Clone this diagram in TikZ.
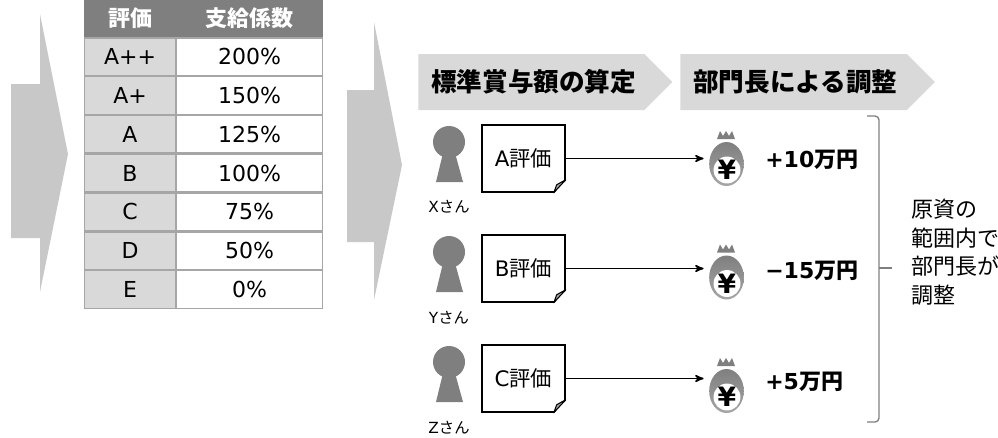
\documentclass[tikz,border=0pt]{standalone}
\usepackage{fontspec}
\setmainfont{DejaVu Sans}
\newfontfamily\cjk{Noto Sans CJK JP}
\usetikzlibrary{arrows,positioning,shapes.geometric,shapes.symbols}
\definecolor{bandgray}{HTML}{D9D9D9}
\definecolor{headgray}{HTML}{7F7F7F}
\definecolor{bluntgray}{HTML}{C8C8C8}
\definecolor{tablegray}{HTML}{A6A6A6}
\tikzset{
	cell/.style = {rectangle, draw=tablegray, line width=1pt, inner sep=0pt, text=black, 
		font=\fontsize{16.5}{18}\selectfont, minimum height=28.1pt},
	gradecell/.style = {cell, fill=bandgray, minimum width=68.5pt},
	ratecell/.style = {cell, fill=white, minimum width=109.75pt},
	headcell/.style = {rectangle, fill=headgray, inner sep=0pt, text=white, 
		font=\fontsize{16.5}{18}\selectfont\bfseries\cjk, minimum height=27.75pt},
	band/.style = {signal, signal to=east, signal pointer angle=90, fill=bandgray, 
		inner sep=0pt, minimum height=42pt, text=black, anchor=west, align=left, 
		font=\fontsize{19.2}{20}\selectfont\bfseries\cjk},
	sheet/.style = {rectangle, draw=black, line width=1.1pt, fill=white, inner sep=0pt, 
		minimum width=62.25pt, minimum height=50.25pt, font=\fontsize{16}{18}\selectfont},
	who/.style = {inner sep=0pt, font=\fontsize{11.5}{13}\selectfont},
	bag/.style = {ellipse, inner sep=0pt, minimum width=26pt, minimum height=33pt, 
		top color=headgray, bottom color=tablegray},
	yen/.style = {circle, fill=white, inner sep=0pt, minimum width=20pt, 
		font=\fontsize{20}{20}\selectfont\bfseries},
	amount/.style = {anchor=west, inner sep=0pt, font=\fontsize{16.5}{18}\selectfont\bfseries},
	note/.style = {anchor=west, inner sep=0pt, font=\fontsize{16.5}{18}\selectfont\cjk},
	person/.pic = {
		\fill [headgray] (0,0) circle (12pt);
		\fill [headgray] (-6,11) -- (6,11) -- (14,40) -- (-13,40) -- cycle;
	},
	fold/.pic = {
		\fill [white] (-12,1) -- (1,-13) -- (1,1) -- cycle;
		\draw [black, line width=.8pt, fill=tablegray, line join=round] (-12,0) -- (-9,-8) -- (0,-13) -- cycle;
	},
	crown/.pic = {
		\fill [headgray] (-9,8) -- (-6,0) -- (-3,5) -- (0,0) -- (3,5) -- (6,0) -- (9,8) -- cycle;
	}
}

\begin{document}
\begin{tikzpicture}[>=stealth', x=.75pt, y=-.75pt]
\useasboundingbox (0,0) rectangle (998,437);
%----------------- Blunt arrows --------------
	\fill [bluntgray] (11,84) -- (40,84) -- (40,14) -- (68,154) -- (40,292) -- (40,238) -- (11,238) -- cycle;
	\fill [bluntgray] (347,90) -- (374,90) -- (374,22) -- (402,165) -- (374,300) -- (374,242) -- (347,242) -- cycle;
%----------------- Table --------------
	\node (H1) [headcell, minimum width=69pt] at (130,18.5) {評価};
	\node (H2) [headcell, minimum width=110.25pt] at (249.5,18.5) {支給係数};
	\node (G1) [gradecell, below=0pt of H1] {A++};
	\node (G2) [gradecell, below=0pt of G1] {A+};
	\node (G3) [gradecell, below=0pt of G2] {A};
	\node (G4) [gradecell, below=0pt of G3] {B};
	\node (G5) [gradecell, below=0pt of G4] {C};
	\node (G6) [gradecell, below=0pt of G5] {D};
	\node (G7) [gradecell, below=0pt of G6] {E};
	\node (R1) [ratecell, below=0pt of H2] {200\%};
	\node (R2) [ratecell, below=0pt of R1] {150\%};
	\node (R3) [ratecell, below=0pt of R2] {125\%};
	\node (R4) [ratecell, below=0pt of R3] {100\%};
	\node (R5) [ratecell, below=0pt of R4] {75\%};
	\node (R6) [ratecell, below=0pt of R5] {50\%};
	\node (R7) [ratecell, below=0pt of R6] {0\%};
%----------------- Step bands --------------
	\node (calc) [band, text width=169.5pt] at (418,82) {\hspace*{9.75pt}標準賞与額の算定};
	\node (adjust) [band, text width=170pt] at (680,82) {\hspace*{9.75pt}部門長による調整};
%----------------- Rows --------------
	\pic at (449,142) {person};
	\pic at (449,252) {person};
	\pic at (449,362) {person};
	\node (whoX) [who] at (449,207) {X{\cjk さん}};
	\node (whoY) [who] at (449,318) {Y{\cjk さん}};
	\node (whoZ) [who] at (449,428) {Z{\cjk さん}};
	\node (docA) [sheet] at (523.5,158.5) {A{\cjk 評価}};
	\node (docB) [sheet] at (523.5,268.5) {B{\cjk 評価}};
	\node (docC) [sheet] at (523.5,378.5) {C{\cjk 評価}};
	\pic at (docA.south east) {fold};
	\pic at (docB.south east) {fold};
	\pic at (docC.south east) {fold};
	\node (bagA) [bag] at (726.5,164) {};
	\node (bagB) [bag] at (726.5,277.5) {};
	\node (bagC) [bag] at (726.5,391) {};
	\node (yenA) [yen] at (727,170) {¥};
	\node (yenB) [yen] at (727,283.5) {¥};
	\node (yenC) [yen] at (727,397) {¥};
	\pic at (726,131) {crown};
	\pic at (726,244.5) {crown};
	\pic at (726,358) {crown};
	\draw [->, line width=1.2pt, shorten >=4pt] (docA.east) -- (docA.east -| bagA.west);
	\draw [->, line width=1.2pt, shorten >=4pt] (docB.east) -- (docB.east -| bagB.west);
	\draw [->, line width=1.2pt, shorten >=4pt] (docC.east) -- (docC.east -| bagC.west);
	\node (amtA) [amount] at (765,160) {+10{\cjk 万円}};
	\node (amtB) [amount] at (765,271) {−15{\cjk 万円}};
	\node (amtC) [amount] at (765,382) {+5{\cjk 万円}};
%----------------- Bracket and note --------------
	\coordinate (brTop) at (867,116);
	\coordinate (brBot) at (867,422);
	\coordinate (brMid) at (879,268);
	\coordinate (brTip) at (892,268);
	\draw [headgray, line width=1pt, rounded corners=3pt] (brTop) -| (brMid) |- (brBot);
	\draw [headgray, line width=1pt] (brMid) -- (brTip);
	\node (note1) [note] at (911,209) {原資の};
	\node (note2) [note] at (911,238) {範囲内で};
	\node (note3) [note] at (911,266) {部門長が};
	\node (note4) [note] at (911,295) {調整};
\end{tikzpicture}
\end{document}
